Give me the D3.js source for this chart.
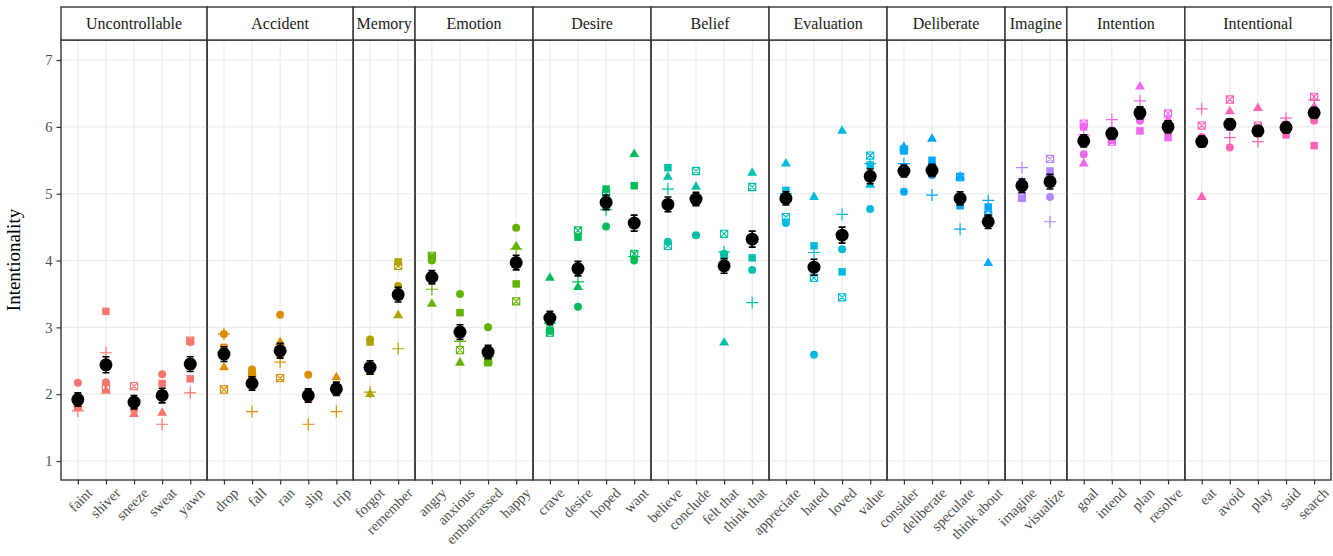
<!DOCTYPE html>
<html>
<head>
<meta charset="utf-8">
<script src="https://cdn.jsdelivr.net/npm/d3@7"></script>
<style>
  body { margin: 0; background: #fff; }
  svg { display: block; }
</style>
</head>
<body>
<div id="chart"></div>
<script>
// Facets and the words in each one (in plotting order)
const facetNames = ["Uncontrollable", "Accident", "Memory", "Emotion", "Desire", "Belief",
  "Evaluation", "Deliberate", "Imagine", "Intention", "Intentional"];
const facetColors = ["#F8766D", "#DB8E00", "#AEA200", "#64B200", "#00BD5C", "#00C1A7",
  "#00BADE", "#00A6FF", "#B385FF", "#EF67EB", "#FF63B6"];
const facetWords = [
  ["faint", "shiver", "sneeze", "sweat", "yawn"],
  ["drop", "fall", "ran", "slip", "trip"],
  ["forgot", "remember"],
  ["angry", "anxious", "embarrassed", "happy"],
  ["crave", "desire", "hoped", "want"],
  ["believe", "conclude", "felt that", "think that"],
  ["appreciate", "hated", "loved", "value"],
  ["consider", "deliberate", "speculate", "think about"],
  ["imagine", "visualize"],
  ["goal", "intend", "plan", "resolve"],
  ["eat", "avoid", "play", "said", "search"]
];

// Per-item ratings, one value per word (same order as facetWords flattened)
const circleVals = [2.17, 2.18, 1.85, 2.30, 2.78,  2.90, 2.37, 3.19, 2.29, 2.10,  2.82, 3.62,
  4.00, 3.50, 3.00, 4.49,  2.95, 3.31, 4.51, 4.00,  4.28, 4.38, 4.10, 3.86,
  4.56, 2.59, 4.17, 4.77,  5.03, 5.28, 4.85, 4.60,  5.18, 4.95,  5.59, 5.90, 6.09, 6.00,
  5.85, 5.69, 5.95, 6.00, 6.09];
const triangleVals = [1.80, 2.05, 1.70, 1.72, 2.45,  2.40, 2.15, 2.78, 1.98, 2.25,  2.00, 3.18,
  3.35, 2.47, 2.50, 4.21,  3.74, 3.60, 4.80, 5.59,  5.25, 5.10, 2.77, 5.31,
  5.45, 4.95, 5.94, 5.13,  5.70, 5.82, 5.25, 3.96,  5.18, 5.30,  5.45, 5.95, 6.60, 6.10,
  4.95, 6.23, 6.28, 6.05, 6.30];
const squareVals = [1.82, 3.24, 1.78, 2.16, 2.23,  2.70, 2.30, 2.60, 2.02, 2.05,  2.78, 3.98,
  4.05, 3.22, 2.47, 3.65,  2.96, 4.35, 5.07, 5.12,  5.39, 4.88, 4.06, 4.04,
  5.05, 4.22, 3.83, 5.43,  5.64, 5.50, 4.82, 4.80,  4.93, 5.34,  6.00, 5.80, 5.94, 5.84,
  5.75, 6.00, 5.90, 5.88, 5.72];
const plusVals = [1.75, 2.62, 1.90, 1.55, 2.02,  2.90, 1.74, 2.48, 1.55, 1.74,  2.03, 2.68,
  3.57, 2.79, 2.56, 4.17,  3.06, 3.68, 4.76, 4.06,  5.07, 4.90, 4.13, 3.37,
  5.00, 4.12, 4.69, 5.45,  5.45, 4.98, 4.47, 4.90,  5.39, 4.58,  5.88, 6.11, 6.39, 6.05,
  6.27, 5.84, 5.78, 6.13, 6.40];
const crossVals = [1.86, 2.10, 2.12, 2.00, 2.80,  2.07, 2.27, 2.24, 1.95, 2.05,  2.35, 3.92,
  4.07, 2.66, 2.50, 3.39,  2.92, 4.45, 5.00, 4.10,  4.22, 5.34, 4.40, 5.10,
  4.65, 3.74, 3.45, 5.57,  5.66, 5.40, 5.25, 4.68,  4.95, 5.52,  6.05, 5.78, 6.20, 6.20,
  6.02, 6.41, 6.02, 6.02, 6.45];

// Mean rating per word and its standard error
const meanVals = [1.92, 2.44, 1.88, 1.98, 2.45,  2.60, 2.16, 2.65, 1.98, 2.08,  2.40, 3.49,
  3.75, 2.93, 2.63, 3.97,  3.14, 3.88, 4.87, 4.56,  4.84, 4.92, 3.92, 4.32,
  4.93, 3.90, 4.38, 5.26,  5.34, 5.35, 4.93, 4.58,  5.12, 5.18,  5.79, 5.90, 6.21, 6.00,
  5.78, 6.04, 5.94, 5.99, 6.21];
const seVals = [0.10, 0.12, 0.10, 0.11, 0.11,  0.11, 0.10, 0.11, 0.10, 0.10,  0.10, 0.11,
  0.10, 0.11, 0.10, 0.11,  0.10, 0.11, 0.11, 0.12,  0.11, 0.10, 0.11, 0.12,
  0.10, 0.12, 0.12, 0.11,  0.09, 0.09, 0.10, 0.10,  0.10, 0.11,  0.09, 0.08, 0.09, 0.09,
  0.08, 0.08, 0.08, 0.08, 0.08];

const yTicks = [1, 2, 3, 4, 5, 6, 7];

const FONT = "'Liberation Serif', 'DejaVu Serif', serif";
const width = 1333, height = 556;
const margin = { top: 40, left: 61, right: 2, bottom: 76 };
const stripTop = 7;

const svg = d3.select("#chart").append("svg")
  .attr("width", width)
  .attr("height", height)
  .attr("font-family", FONT);

// y scale shared by all panels
const y = d3.scaleLinear()
  .domain([0.716, 7.3])
  .range([height - margin.bottom, margin.top]);

// panel widths proportional to number of words (+0.6 padding each side)
const units = facetWords.map(w => w.length + 0.2);
const offsets = d3.cumsum([0].concat(units));
const xPanel = d3.scaleLinear()
  .domain([0, offsets[offsets.length - 1]])
  .range([margin.left, width - margin.right]);

// flatten to per-word records
const rows = [];
let k = 0;
facetWords.forEach((ws, fi) => {
  ws.forEach(w => {
    rows.push({
      word: w, facet: fi,
      circle: circleVals[k], triangle: triangleVals[k], square: squareVals[k],
      plus: plusVals[k], cross: crossVals[k], mean: meanVals[k], se: seVals[k]
    });
    k++;
  });
});

const panelTop = margin.top, panelBottom = height - margin.bottom;

facetNames.forEach((name, fi) => {
  const x0 = xPanel(offsets[fi]), x1 = xPanel(offsets[fi + 1]);
  const x = d3.scalePoint().domain(facetWords[fi]).range([x0, x1]).padding(0.6);
  const data = rows.filter(r => r.facet === fi);
  const color = facetColors[fi];
  const g = svg.append("g");

  // grid
  g.selectAll(".hgrid").data(yTicks).join("line")
    .attr("x1", x0).attr("x2", x1)
    .attr("y1", d => y(d)).attr("y2", d => y(d))
    .attr("stroke", "#ebebeb").attr("stroke-width", 1.1);
  g.selectAll(".vgrid").data(facetWords[fi]).join("line")
    .attr("x1", d => x(d)).attr("x2", d => x(d))
    .attr("y1", panelTop).attr("y2", panelBottom)
    .attr("stroke", "#ebebeb").attr("stroke-width", 1.1);

  // colored item points
  const pts = g.append("g");
  data.forEach(d => {
    const cx = x(d.word);
    pts.append("path")
      .attr("transform", `translate(${cx},${y(d.circle)})`)
      .attr("d", d3.symbol(d3.symbolCircle, 50)())
      .attr("fill", color);
    pts.append("path")
      .attr("transform", `translate(${cx},${y(d.triangle)})`)
      .attr("d", d3.symbol(d3.symbolTriangle, 42)())
      .attr("fill", color);
    pts.append("path")
      .attr("transform", `translate(${cx},${y(d.square)})`)
      .attr("d", d3.symbol(d3.symbolSquare, 56)())
      .attr("fill", color);
    pts.append("path")
      .attr("transform", `translate(${cx},${y(d.plus)})`)
      .attr("d", "M-6,0H6M0,-6V6")
      .attr("stroke", color).attr("stroke-width", 1.2).attr("fill", "none");
    pts.append("path")
      .attr("transform", `translate(${cx},${y(d.cross)})`)
      .attr("d", "M-3.6,-3.6H3.6V3.6H-3.6Z M-3.6,-3.6L3.6,3.6 M3.6,-3.6L-3.6,3.6")
      .attr("stroke", color).attr("stroke-width", 1.1).attr("fill", "none");
  });

  // means with error bars
  const m = g.append("g");
  m.selectAll(".eb").data(data).join("path")
    .attr("d", d => {
      const cx = x(d.word), lo = y(d.mean - d.se), hi = y(d.mean + d.se);
      return `M${cx - 3.5},${hi}H${cx + 3.5}M${cx},${hi}V${lo}M${cx - 3.5},${lo}H${cx + 3.5}`;
    })
    .attr("stroke", "#000").attr("stroke-width", 1.6).attr("fill", "none");
  m.selectAll(".mean").data(data).join("circle")
    .attr("cx", d => x(d.word)).attr("cy", d => y(d.mean))
    .attr("r", 6.5).attr("fill", "#000");

  // panel border
  g.append("rect")
    .attr("x", x0).attr("y", panelTop)
    .attr("width", x1 - x0).attr("height", panelBottom - panelTop)
    .attr("fill", "none").attr("stroke", "#333").attr("stroke-width", 1.4);

  // strip
  g.append("rect")
    .attr("x", x0).attr("y", stripTop)
    .attr("width", x1 - x0).attr("height", panelTop - stripTop)
    .attr("fill", "#fff").attr("stroke", "#333").attr("stroke-width", 1.4);
  g.append("text")
    .attr("x", (x0 + x1) / 2).attr("y", (stripTop + panelTop) / 2 + 5.5)
    .attr("text-anchor", "middle")
    .attr("font-family", FONT)
    .attr("font-size", 16)
    .attr("fill", "#1a1a1a")
    .text(name);

  // x axis
  const xa = g.append("g")
    .attr("transform", `translate(0,${panelBottom})`)
    .call(d3.axisBottom(x).tickSize(4.5).tickPadding(3));
  xa.attr("font-family", FONT);
  xa.select(".domain").remove();
  xa.selectAll(".tick line").attr("stroke", "#333").attr("stroke-width", 1.2);
  xa.selectAll(".tick text")
    .attr("font-size", 14.5)
    .attr("fill", "#4d4d4d")
    .attr("text-anchor", "end")
    .attr("dy", "0.55em")
    .attr("transform", "translate(4,3) rotate(-45)");
});

// y axis
const ya = svg.append("g")
  .attr("transform", `translate(${margin.left},0)`)
  .call(d3.axisLeft(y).tickValues(yTicks).tickFormat(d3.format("d")).tickSize(4.5).tickPadding(4));
ya.attr("font-family", FONT);
ya.select(".domain").remove();
ya.selectAll(".tick line").attr("stroke", "#333").attr("stroke-width", 1.2);
ya.selectAll(".tick text").attr("font-size", 14.5).attr("fill", "#4d4d4d");

svg.append("text")
  .attr("transform", `translate(20,${(panelTop + panelBottom) / 2}) rotate(-90)`)
  .attr("text-anchor", "middle")
  .attr("font-family", FONT)
  .attr("font-size", 19)
  .attr("fill", "#000")
  .text("Intentionality");
</script>
</body>
</html>
